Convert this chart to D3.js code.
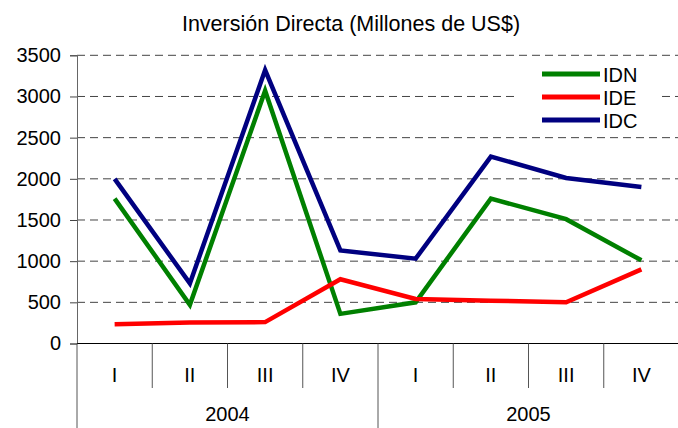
<!DOCTYPE html>
<html lang="es">
<head>
<meta charset="UTF-8">
<title>Inversión Directa</title>
<script src="https://cdn.jsdelivr.net/npm/d3@7"></script>
<style>
  body { margin: 0; background: #fff; }
  text { font-family: "Liberation Sans", Arial, sans-serif; fill: #000; }
</style>
</head>
<body>
<svg id="chart" width="678" height="428"></svg>
<script>
// data
const quarters = ["I", "II", "III", "IV", "I", "II", "III", "IV"];
const years = ["2004", "2005"];
const idn = [1760, 470, 3070, 360, 500, 1760, 1510, 1010];
const ide = [235, 255, 260, 780, 540, 520, 500, 900];
const idc = [2000, 730, 3320, 1130, 1030, 2270, 2010, 1900];
const yTicks = [0, 500, 1000, 1500, 2000, 2500, 3000, 3500];

const series = [
  { name: "IDN", values: idn, color: "#008000" },
  { name: "IDE", values: ide, color: "#ff0000" },
  { name: "IDC", values: idc, color: "#000080" }
];

const svg = d3.select("#chart");
const plotLeft = 77, plotRight = 679, plotTop = 55.3, plotBottom = 343.5;

const x = d3.scaleBand().domain(d3.range(quarters.length)).range([plotLeft, plotRight]);
const y = d3.scaleLinear().domain([0, 3500]).range([plotBottom, plotTop]);

// title
svg.append("text")
  .attr("x", 351).attr("y", 31)
  .attr("text-anchor", "middle")
  .style("font-size", "21.5px")
  .text("Inversión Directa (Millones de US$)");

// dashed gridlines
svg.append("g").selectAll("line")
  .data(yTicks.filter(d => d > 0))
  .join("line")
  .attr("x1", plotLeft).attr("x2", plotRight)
  .attr("y1", d => y(d)).attr("y2", d => y(d))
  .attr("stroke", "#444").attr("stroke-width", 1)
  .attr("stroke-dasharray", "8,5");

// y axis
const yAxis = svg.append("g")
  .attr("transform", `translate(${plotLeft},0)`)
  .call(d3.axisLeft(y).tickValues(yTicks).tickFormat(d3.format("d")).tickSize(7).tickPadding(9));
yAxis.select(".domain").attr("stroke", "#666");
yAxis.selectAll(".tick line").attr("stroke", "#444");
yAxis.selectAll("text")
  .style("font-size", "20px")
  .attr("font-family", "Liberation Sans, Arial, sans-serif");

// x axis: baseline plus category separators
svg.append("line")
  .attr("x1", plotLeft).attr("x2", plotRight)
  .attr("y1", plotBottom).attr("y2", plotBottom)
  .attr("stroke", "#000");

const bounds = d3.range(quarters.length + 1).map(i => i < quarters.length ? x(i) : plotRight);
svg.append("g").selectAll("line")
  .data(bounds)
  .join("line")
  .attr("x1", d => d).attr("x2", d => d)
  .attr("y1", plotBottom)
  .attr("y2", (d, i) => i % 4 === 0 ? 428 : 388)
  .attr("stroke", "#555");

svg.append("g").selectAll("text")
  .data(quarters)
  .join("text")
  .attr("x", (d, i) => x(i) + x.bandwidth() / 2)
  .attr("y", 381.5)
  .attr("text-anchor", "middle")
  .style("font-size", "20px")
  .text(d => d);

svg.append("g").selectAll("text")
  .data(years)
  .join("text")
  .attr("x", (d, i) => x(i * 4) + x.bandwidth() * 2)
  .attr("y", 421)
  .attr("text-anchor", "middle")
  .style("font-size", "20px")
  .text(d => d);

// lines
const line = d3.line()
  .x((d, i) => x(i) + x.bandwidth() / 2)
  .y(d => y(d));

svg.append("g").selectAll("path")
  .data(series)
  .join("path")
  .attr("d", d => line(d.values))
  .attr("fill", "none")
  .attr("stroke", d => d.color)
  .attr("stroke-width", 4.5)
  .attr("stroke-linejoin", "miter");

// legend
const legend = svg.append("g");
legend.append("rect")
  .attr("x", 515).attr("y", 60).attr("width", 147).attr("height", 72)
  .attr("fill", "#fff");
const items = legend.selectAll("g")
  .data(series)
  .join("g")
  .attr("transform", (d, i) => `translate(0,${74 + i * 23})`);
items.append("line")
  .attr("x1", 542).attr("x2", 600)
  .attr("stroke", d => d.color).attr("stroke-width", 5);
items.append("text")
  .attr("x", 603).attr("y", 8)
  .style("font-size", "20px")
  .text(d => d.name);
</script>
</body>
</html>
